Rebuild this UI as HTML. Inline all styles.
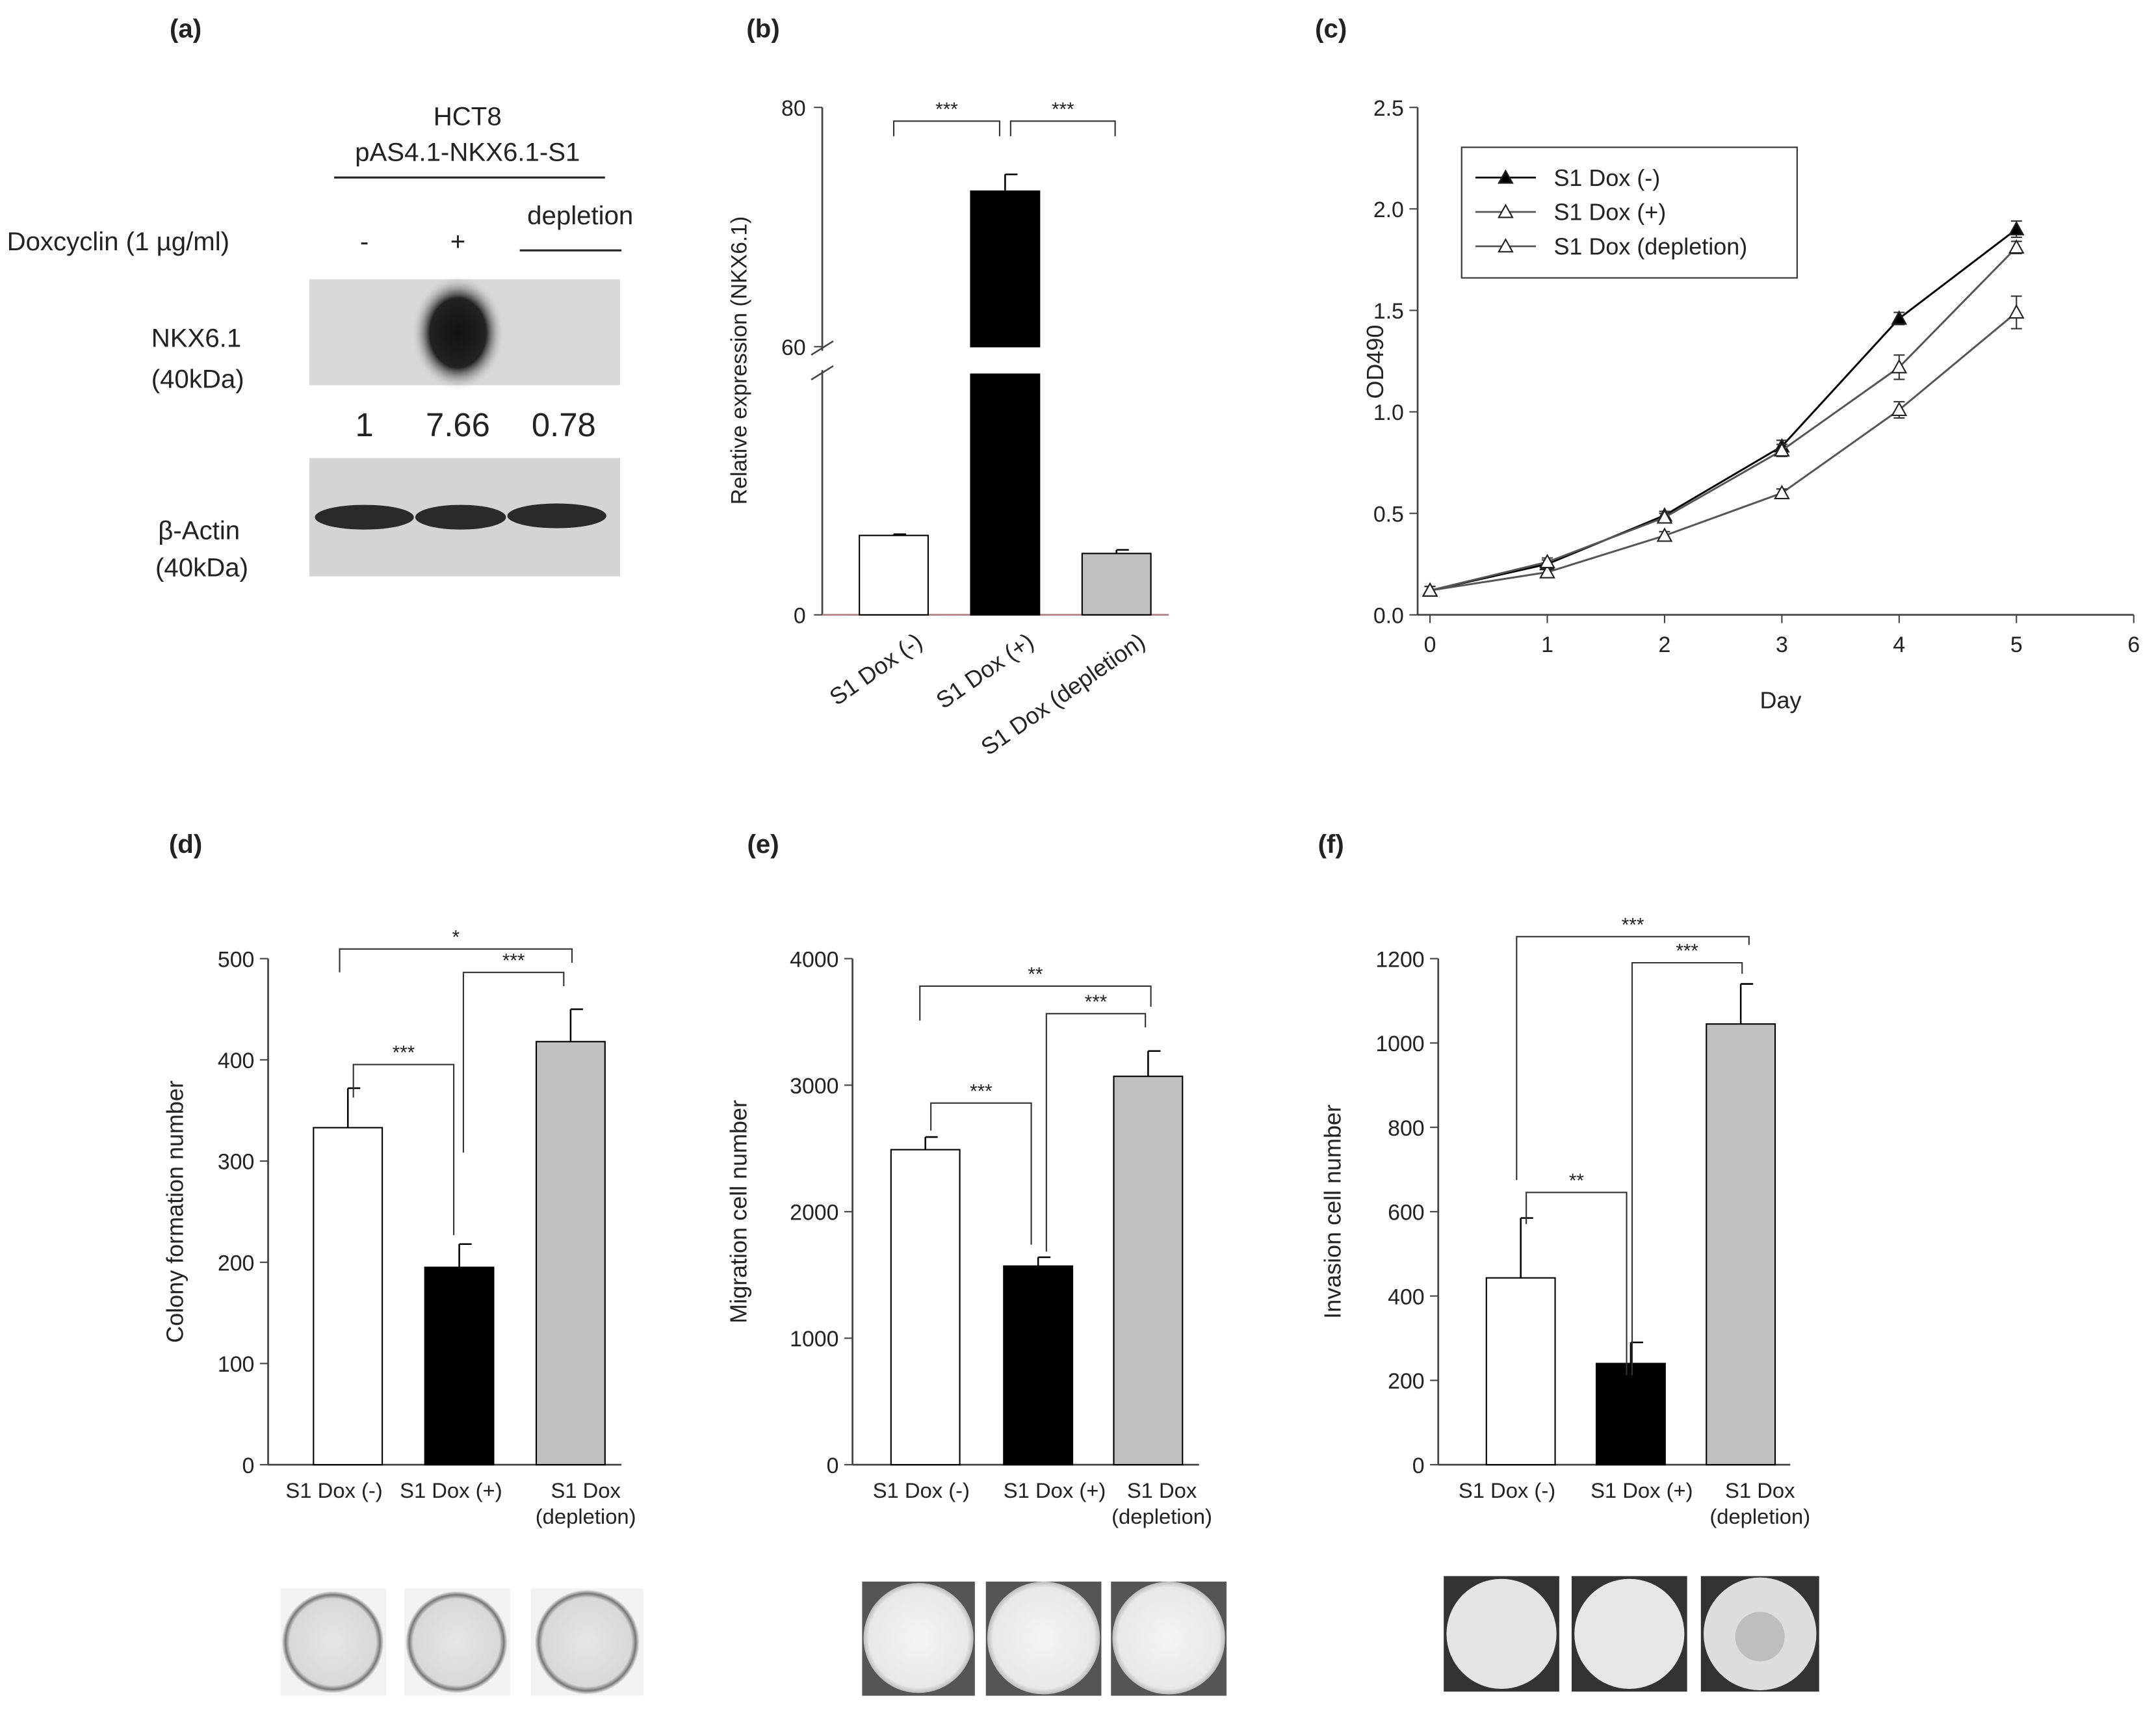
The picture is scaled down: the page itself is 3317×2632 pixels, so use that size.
<!DOCTYPE html>
<html><head><meta charset="utf-8"><style>
html,body{margin:0;padding:0;background:#fff}
svg{display:block}
text{font-family:"Liberation Sans",Arial,sans-serif;fill:#222}
</style></head><body>
<svg id="fig" width="3317" height="2632" viewBox="0 0 1568 1244" xmlns="http://www.w3.org/2000/svg">
<defs>
<radialGradient id="blob" cx="50%" cy="50%" r="50%"><stop offset="0" stop-color="#111"/><stop offset="0.6" stop-color="#222"/><stop offset="1" stop-color="#ddd" stop-opacity="0"/></radialGradient>
<radialGradient id="plateD" cx="50%" cy="50%" r="50%"><stop offset="0" stop-color="#e6e6e6"/><stop offset="0.85" stop-color="#d8d8d8"/><stop offset="0.93" stop-color="#777"/><stop offset="1" stop-color="#eee"/></radialGradient>
<radialGradient id="plateE" cx="50%" cy="50%" r="50%"><stop offset="0" stop-color="#f4f4f4"/><stop offset="0.9" stop-color="#e8e8e8"/><stop offset="1" stop-color="#bbb"/></radialGradient>
</defs>
<!-- Panel a -->
<g>
<text x="135" y="27" font-size="19" font-weight="bold" text-anchor="middle">(a)</text>
<text x="340" y="91" font-size="19" text-anchor="middle">HCT8</text>
<text x="340" y="117" font-size="19" text-anchor="middle">pAS4.1-NKX6.1-S1</text>
<line x1="243" y1="129" x2="440" y2="129" stroke="#222" stroke-width="1.5"/>
<text x="5" y="182" font-size="19">Doxcyclin (1 µg/ml)</text>
<text x="265" y="182" font-size="19" text-anchor="middle">-</text>
<text x="333" y="182" font-size="19" text-anchor="middle">+</text>
<text x="422" y="163" font-size="19" text-anchor="middle">depletion</text>
<line x1="378" y1="182" x2="452" y2="182" stroke="#222" stroke-width="1.5"/>
<rect x="225" y="203" width="226" height="77" fill="#d8d8d8"/>
<ellipse cx="333" cy="242" rx="34" ry="42" fill="url(#blob)"/>
<text x="110" y="252" font-size="19">NKX6.1</text>
<text x="110" y="282" font-size="19">(40kDa)</text>
<text x="265" y="317" font-size="24" text-anchor="middle">1</text>
<text x="333" y="317" font-size="24" text-anchor="middle">7.66</text>
<text x="410" y="317" font-size="24" text-anchor="middle">0.78</text>
<rect x="225" y="333" width="226" height="86" fill="#d4d4d4"/>
<ellipse cx="265" cy="376" rx="36" ry="9" fill="#2a2a2a"/>
<ellipse cx="335" cy="376" rx="33" ry="9" fill="#2a2a2a"/>
<ellipse cx="405" cy="375" rx="36" ry="9" fill="#2a2a2a"/>
<text x="115" y="392" font-size="19">β-Actin</text>
<text x="113" y="419" font-size="19">(40kDa)</text>
</g>
<text x="555" y="27" font-size="19" font-weight="bold" text-anchor="middle">(b)</text>
<text x="968" y="27" font-size="19" font-weight="bold" text-anchor="middle">(c)</text>
<text x="135" y="620" font-size="19" font-weight="bold" text-anchor="middle">(d)</text>
<text x="555" y="620" font-size="19" font-weight="bold" text-anchor="middle">(e)</text>
<text x="968" y="620" font-size="19" font-weight="bold" text-anchor="middle">(f)</text>
<!-- plate images -->
<g>
<rect x="204" y="1155" width="77" height="78" fill="#f2f2f2"/><circle cx="242" cy="1194" r="37" fill="url(#plateD)"/>
<rect x="294" y="1155" width="77" height="78" fill="#f2f2f2"/><circle cx="332" cy="1194" r="37" fill="url(#plateD)"/>
<rect x="386" y="1155" width="82" height="78" fill="#f2f2f2"/><circle cx="427" cy="1194" r="38" fill="url(#plateD)"/>
</g>
<g>
<rect x="627" y="1150" width="82" height="83" fill="#555"/><circle cx="668" cy="1191" r="40" fill="url(#plateE)"/>
<rect x="717" y="1150" width="84" height="83" fill="#555"/><circle cx="759" cy="1191" r="41" fill="url(#plateE)"/>
<rect x="808" y="1150" width="84" height="83" fill="#555"/><circle cx="850" cy="1191" r="41" fill="url(#plateE)"/>
</g>
<g>
<rect x="1050" y="1146" width="84" height="84" fill="#333"/><circle cx="1092" cy="1188" r="40" fill="#e4e4e4"/>
<rect x="1143" y="1146" width="84" height="84" fill="#333"/><circle cx="1185" cy="1188" r="40" fill="#e6e6e6"/>
<rect x="1237" y="1146" width="86" height="84" fill="#333"/><circle cx="1280" cy="1188" r="41" fill="#ddd"/><circle cx="1280" cy="1190" r="18" fill="#aaa" opacity="0.6"/>
</g>
</svg>
<script>
// ---- Panel b data ----
const bCats = ["S1 Dox (-)", "S1 Dox (+)", "S1 Dox (depletion)"];
const bVals = [6.6, 73, 5.1];
const bErr = [0.1, 1.4, 0.3];
const bTicks = [0, 60, 80];
// ---- Panel c data ----
const cDays = [0, 1, 2, 3, 4, 5];
const cMinus = [0.12, 0.25, 0.49, 0.83, 1.46, 1.90];
const cMinusErr = [0.02, 0.02, 0.02, 0.03, 0.03, 0.04];
const cPlus = [0.12, 0.21, 0.39, 0.60, 1.01, 1.49];
const cPlusErr = [0.02, 0.02, 0.02, 0.02, 0.04, 0.08];
const cDepl = [0.12, 0.26, 0.48, 0.81, 1.22, 1.81];
const cDeplErr = [0.02, 0.02, 0.02, 0.03, 0.06, 0.03];
const cYTicks = ["0.0", "0.5", "1.0", "1.5", "2.0", "2.5"];
const cXTicks = [0, 1, 2, 3, 4, 5, 6];
const cLegend = ["S1 Dox (-)", "S1 Dox (+)", "S1 Dox (depletion)"];
// ---- Panels d, e, f data ----
const dVals = [333, 195, 418];
const dErr = [39, 23, 32];
const dTicks = [0, 100, 200, 300, 400, 500];
const eVals = [2490, 1570, 3070];
const eErr = [100, 70, 200];
const eTicks = [0, 1000, 2000, 3000, 4000];
const fVals = [443, 240, 1045];
const fErr = [142, 50, 95];
const fTicks = [0, 200, 400, 600, 800, 1000, 1200];
const barFills = ["#fff", "#000", "#c0c0c0"];

const NS = "http://www.w3.org/2000/svg";
const svg = document.getElementById("fig");
function mk(tag, a, p) { const e = document.createElementNS(NS, tag); for (const k in a) e.setAttribute(k, a[k]); (p || svg).appendChild(e); return e; }
function txt(s, a, p) { const t = mk("text", a, p); t.textContent = s; return t; }

// ===== Panel b =====
(function () {
  const g = mk("g", {});
  
  
  const ax = 598, y0 = 447, lowTop = 272, upBot = 252;
  const lowMax = 20, upMin = 60, upMax = 80, upTop = 78;
  function yLow(v) { return y0 - (Math.min(v, lowMax) / lowMax) * (y0 - lowTop); }
  function yUp(v) { return upBot - (v - upMin) / (upMax - upMin) * (upBot - upTop); }
  function yAny(v) { return v <= lowMax ? yLow(v) : (v < upMin ? lowTop : yUp(v)); }
  const xs = [650, 731, 812], bw = 50;
  // axis
  const a1 = mk("line", { x1: ax, y1: upTop, x2: ax, y2: upBot + 3, stroke: "#444", "stroke-width": 1.3 }, g);
  
  
  const a2 = mk("line", { x1: ax, y1: lowTop - 3, x2: ax, y2: y0, stroke: "#444", "stroke-width": 1.3 }, g);
  
  
  mk("line", { x1: ax - 8, y1: upBot + 6, x2: ax + 8, y2: upBot - 4, stroke: "#444", "stroke-width": 1.2 }, g);
  mk("line", { x1: ax - 8, y1: lowTop + 4, x2: ax + 8, y2: lowTop - 6, stroke: "#444", "stroke-width": 1.2 }, g);
  const xa = mk("line", { x1: ax, y1: y0, x2: 850, y2: y0, stroke: "#b08080", "stroke-width": 1.3 }, g);
  
  
  bTicks.forEach(t => {
    const y = t === 0 ? y0 : yUp(t);
    mk("line", { x1: ax - 6, y1: y, x2: ax, y2: y, stroke: "#444" }, g);
    const tl = txt(String(t), { x: ax - 12, y: y + 6, "font-size": 16, "text-anchor": "end" }, g);
    
    
  });
  const yt = txt("Relative expression (NKX6.1)", { x: 0, y: 0, "font-size": 16, "text-anchor": "middle", transform: "translate(543,262) rotate(-90)" }, g);
  
  
  bVals.forEach((v, i) => {
    const x = xs[i] - bw / 2;
    if (v > lowMax) {
      const r1 = mk("rect", { x: x, y: lowTop, width: bw, height: y0 - lowTop, fill: barFills[i], stroke: "#000" }, g);
      
      
      const r2 = mk("rect", { x: x, y: yUp(v), width: bw, height: upBot - yUp(v), fill: barFills[i], stroke: "#000" }, g);
      
      
    } else {
      const r = mk("rect", { x: x, y: yLow(v), width: bw, height: y0 - yLow(v), fill: barFills[i], stroke: "#000" }, g);
      
      
    }
    const ye = yAny(v + bErr[i]);
    const eb = mk("path", { d: `M${xs[i]} ${yAny(v)}V${ye}M${xs[i]} ${ye}H${xs[i] + 9}`, stroke: "#000", fill: "none", "stroke-width": 1.2 }, g);
    
    
    const lbl = txt(bCats[i], { x: 0, y: 0, "font-size": 17, "text-anchor": "end", transform: `translate(${xs[i] + 22},${y0 + 22}) rotate(-35)` }, g);
    
    
  });
  [[650, 727], [735, 811]].forEach(p => {
    const br = mk("path", { d: `M${p[0]} 99V88H${p[1]}V99`, stroke: "#333", fill: "none" }, g);
    
    
    const st = txt("***", { x: (p[0] + p[1]) / 2, y: 84, "font-size": 14, "text-anchor": "middle" }, g);
    
    
  });
})();

// ===== Panel c =====
(function () {
  const g = mk("g", {});
  
  
  const x0 = 1040, xd = 85.3, y0 = 447, yu = 147.6, ax = 1031;
  const X = d => x0 + d * xd, Y = v => y0 - v * yu;
  const ya = mk("line", { x1: ax, y1: 78, x2: ax, y2: y0, stroke: "#444", "stroke-width": 1.3 }, g);
  
  
  const xa = mk("line", { x1: ax, y1: y0, x2: X(6), y2: y0, stroke: "#444", "stroke-width": 1.3 }, g);
  
  
  cYTicks.forEach(t => {
    const y = Y(parseFloat(t));
    mk("line", { x1: ax - 6, y1: y, x2: ax, y2: y, stroke: "#444" }, g);
    const tl = txt(t, { x: ax - 10, y: y + 6, "font-size": 16, "text-anchor": "end" }, g);
    
    
  });
  cXTicks.forEach(t => {
    mk("line", { x1: X(t), y1: y0, x2: X(t), y2: y0 + 6, stroke: "#444" }, g);
    const tl = txt(String(t), { x: X(t), y: y0 + 27, "font-size": 16, "text-anchor": "middle" }, g);
    
    
  });
  const yt = txt("OD490", { x: 0, y: 0, "font-size": 17, "text-anchor": "middle", transform: "translate(1006,263) rotate(-90)" }, g);
  
  
  const xt = txt("Day", { x: 1295, y: 515, "font-size": 17, "text-anchor": "middle" }, g);
  
  
  const series = [[cMinus, cMinusErr, "#000", "#000"], [cPlus, cPlusErr, "#fff", "#555"], [cDepl, cDeplErr, "#fff", "#555"]];
  series.forEach((s, si) => {
    const vals = s[0], errs = s[1];
    const ln = mk("polyline", { points: cDays.map((d, i) => X(d) + "," + Y(vals[i])).join(" "), fill: "none", stroke: s[3], "stroke-width": 1.4 }, g);
    
    
    cDays.forEach((d, i) => {
      const x = X(d), y = Y(vals[i]), e1 = Y(vals[i] + errs[i]), e2 = Y(vals[i] - errs[i]);
      const eb = mk("path", { d: `M${x} ${e1}V${e2}M${x - 4} ${e1}H${x + 4}M${x - 4} ${e2}H${x + 4}`, stroke: "#333", fill: "none" }, g);
      
      
      const m = mk("path", { d: `M${x} ${y - 5}L${x + 5} ${y + 4}L${x - 5} ${y + 4}Z`, fill: s[2], stroke: "#222", "stroke-width": 1 }, g);
      
      
    });
  });
  const lb = mk("rect", { x: 1063, y: 107, width: 244, height: 95, fill: "#fff", stroke: "#333" }, g);
  
  
  cLegend.forEach((l, i) => {
    const y = 129 + i * 25;
    mk("line", { x1: 1073, y1: y, x2: 1117, y2: y, stroke: series[i][3], "stroke-width": 1.3 }, g);
    mk("path", { d: `M1095 ${y - 5}L1100 ${y + 4}L1090 ${y + 4}Z`, fill: series[i][2], stroke: "#222" }, g);
    const t = txt(l, { x: 1130, y: y + 6, "font-size": 17 }, g);
    
    
  });
})();

// ===== Panels d, e, f =====
function barPanel(cfg) {
  const g = mk("g", {});
  
  
  const y0 = 1065, yTop = 697, max = cfg.ticks[cfg.ticks.length - 1];
  const Y = v => y0 - v / max * (y0 - yTop);
  const ya = mk("line", { x1: cfg.ax, y1: yTop, x2: cfg.ax, y2: y0, stroke: "#444", "stroke-width": 1.3 }, g);
  
  
  const xa = mk("line", { x1: cfg.ax, y1: y0, x2: cfg.xEnd, y2: y0, stroke: "#444", "stroke-width": 1.3 }, g);
  
  
  cfg.ticks.forEach(t => {
    mk("line", { x1: cfg.ax - 6, y1: Y(t), x2: cfg.ax, y2: Y(t), stroke: "#444" }, g);
    const tl = txt(String(t), { x: cfg.ax - 10, y: Y(t) + 6, "font-size": 16, "text-anchor": "end" }, g);
    
    
  });
  const yt = txt(cfg.title, { x: 0, y: 0, "font-size": 17, "text-anchor": "middle", transform: `translate(${cfg.titleX},${(y0 + yTop) / 2}) rotate(-90)` }, g);
  
  
  const labs = [["S1 Dox (-)"], ["S1 Dox (+)"], ["S1 Dox", "(depletion)"]];
  cfg.vals.forEach((v, i) => {
    const cx = cfg.xs[i];
    const r = mk("rect", { x: cx - 25, y: Y(v), width: 50, height: y0 - Y(v), fill: barFills[i], stroke: "#000" }, g);
    
    
    const ye = Y(v + cfg.err[i]);
    const eb = mk("path", { d: `M${cx} ${Y(v)}V${ye}M${cx} ${ye}H${cx + 9}`, stroke: "#000", fill: "none", "stroke-width": 1.2 }, g);
    
    
    labs[i].forEach((s, k) => {
      const tl = txt(s, { x: cfg.lx[i], y: 1089 + k * 19, "font-size": 15.5, "text-anchor": "middle" }, g);
      
      
    });
  });
  cfg.brackets.forEach(b => {
    const br = mk("path", { d: `M${b[0]} ${b[3]}V${b[2]}H${b[1]}V${b[4]}`, stroke: "#333", fill: "none" }, g);
    
    
    const st = txt(b[5], { x: (b[0] + b[1]) / 2, y: b[2] - 4, "font-size": 14, "text-anchor": "middle" }, g);
    
    
  });
}
barPanel({ name: "panel-d-colony-chart", ax: 195, xEnd: 452, xs: [253, 334, 415], lx: [243, 328, 426], vals: dVals, err: dErr, ticks: dTicks, title: "Colony formation number", titleX: 133,
  brackets: [[247, 416, 690, 707, 700, "*"], [257, 330, 774, 798, 898, "***"], [337, 410, 707, 838, 717, "***"]] });
barPanel({ name: "panel-e-migration-chart", ax: 620, xEnd: 872, xs: [673, 755, 835], lx: [670, 767, 845], vals: eVals, err: eErr, ticks: eTicks, title: "Migration cell number", titleX: 543,
  brackets: [[669, 837, 717, 742, 732, "**"], [677, 750, 802, 822, 905, "***"], [761, 833, 737, 910, 747, "***"]] });
barPanel({ name: "panel-f-invasion-chart", ax: 1046, xEnd: 1302, xs: [1106, 1186, 1266], lx: [1096, 1194, 1280], vals: fVals, err: fErr, ticks: fTicks, title: "Invasion cell number", titleX: 975,
  brackets: [[1103, 1272, 681, 858, 687, "***"], [1187, 1267, 700, 1000, 708, "***"], [1110, 1183, 867, 890, 1000, "**"]] });
</script>
</body></html>
